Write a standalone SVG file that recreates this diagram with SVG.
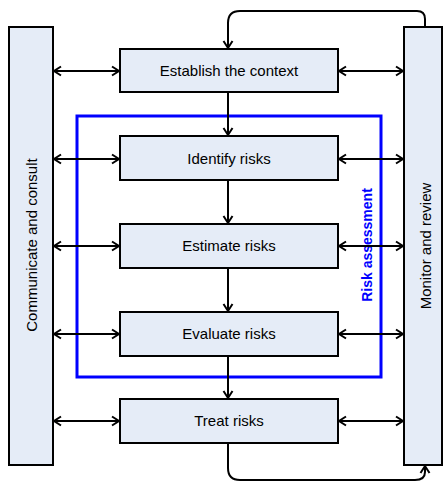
<svg xmlns="http://www.w3.org/2000/svg" width="445" height="483" viewBox="0 0 445 483">
<style>
.box{fill:#E5ECF7;stroke:#000;stroke-width:2}
.lbl{font-family:"Liberation Sans",Arial,sans-serif;font-size:15px;fill:#000;text-anchor:middle;dominant-baseline:central}
.conn{stroke:#000;stroke-width:2;fill:none}
</style>
<defs>
<marker id="arr" markerUnits="userSpaceOnUse" markerWidth="12" markerHeight="12" viewBox="0 0 12 12" refX="10" refY="6" orient="auto-start-reverse">
<path d="M3,1.5 L10,6 L3,10.5" fill="none" stroke="#000" stroke-width="2"/>
</marker>
</defs>
<rect width="445" height="483" fill="#fff"/>
<g id="assessment">
<rect x="77" y="116" width="304" height="261" fill="none" stroke="#0000FF" stroke-width="3"/>
<text class="lbl" transform="translate(367,245) rotate(-90)" style="fill:#0000FF;font-weight:bold;font-size:14px">Risk assessment</text>
</g>
<g id="communicate">
<rect class="box" x="9" y="27" width="44" height="438"/>
<text class="lbl" transform="translate(31,245) rotate(-90)">Communicate and consult</text>
</g>
<g id="monitor">
<rect class="box" x="404" y="27" width="38" height="438"/>
<text class="lbl" transform="translate(425,246) rotate(-90)">Monitor and review</text>
</g>
<g id="context">
<rect class="box" x="120" y="49" width="218" height="43"/>
<text class="lbl" x="229" y="70">Establish the context</text>
</g>
<g id="identify">
<rect class="box" x="120" y="136" width="218" height="44"/>
<text class="lbl" x="229" y="158">Identify risks</text>
</g>
<g id="estimate">
<rect class="box" x="120" y="224" width="218" height="44"/>
<text class="lbl" x="229" y="245">Estimate risks</text>
</g>
<g id="evaluate">
<rect class="box" x="120" y="312" width="218" height="44"/>
<text class="lbl" x="229" y="333">Evaluate risks</text>
</g>
<g id="treat">
<rect class="box" x="120" y="399" width="218" height="44"/>
<text class="lbl" x="229" y="420">Treat risks</text>
</g>
<g id="connectors">
<line class="conn" x1="54" y1="71" x2="119" y2="71" marker-start="url(#arr)" marker-end="url(#arr)"/>
<line class="conn" x1="54" y1="159" x2="119" y2="159" marker-start="url(#arr)" marker-end="url(#arr)"/>
<line class="conn" x1="54" y1="246" x2="119" y2="246" stroke-width="3" marker-start="url(#arr)" marker-end="url(#arr)"/>
<line class="conn" x1="54" y1="334" x2="119" y2="334" marker-start="url(#arr)" marker-end="url(#arr)"/>
<line class="conn" x1="54" y1="421" x2="119" y2="421" marker-start="url(#arr)" marker-end="url(#arr)"/>
<line class="conn" x1="339" y1="71" x2="403" y2="71" marker-start="url(#arr)" marker-end="url(#arr)"/>
<line class="conn" x1="339" y1="159" x2="403" y2="159" marker-start="url(#arr)" marker-end="url(#arr)"/>
<line class="conn" x1="339" y1="246" x2="403" y2="246" stroke-width="3" marker-start="url(#arr)" marker-end="url(#arr)"/>
<line class="conn" x1="339" y1="334" x2="403" y2="334" marker-start="url(#arr)" marker-end="url(#arr)"/>
<line class="conn" x1="339" y1="421" x2="403" y2="421" marker-start="url(#arr)" marker-end="url(#arr)"/>
<line class="conn" x1="228" y1="93" x2="228" y2="135" marker-end="url(#arr)"/>
<line class="conn" x1="228" y1="181" x2="228" y2="223" marker-end="url(#arr)"/>
<line class="conn" x1="228" y1="269" x2="228" y2="311" marker-end="url(#arr)"/>
<line class="conn" x1="228" y1="357" x2="228" y2="398" marker-end="url(#arr)"/>
<path class="conn" d="M425,27 V19 Q425,11 417,11 H240 Q228,11 228,23 V48" marker-end="url(#arr)"/>
<path class="conn" d="M228,444 V468 Q228,480 240,480 H415 Q425,480 425,472 V466" marker-end="url(#arr)"/>
</g>
</svg>
